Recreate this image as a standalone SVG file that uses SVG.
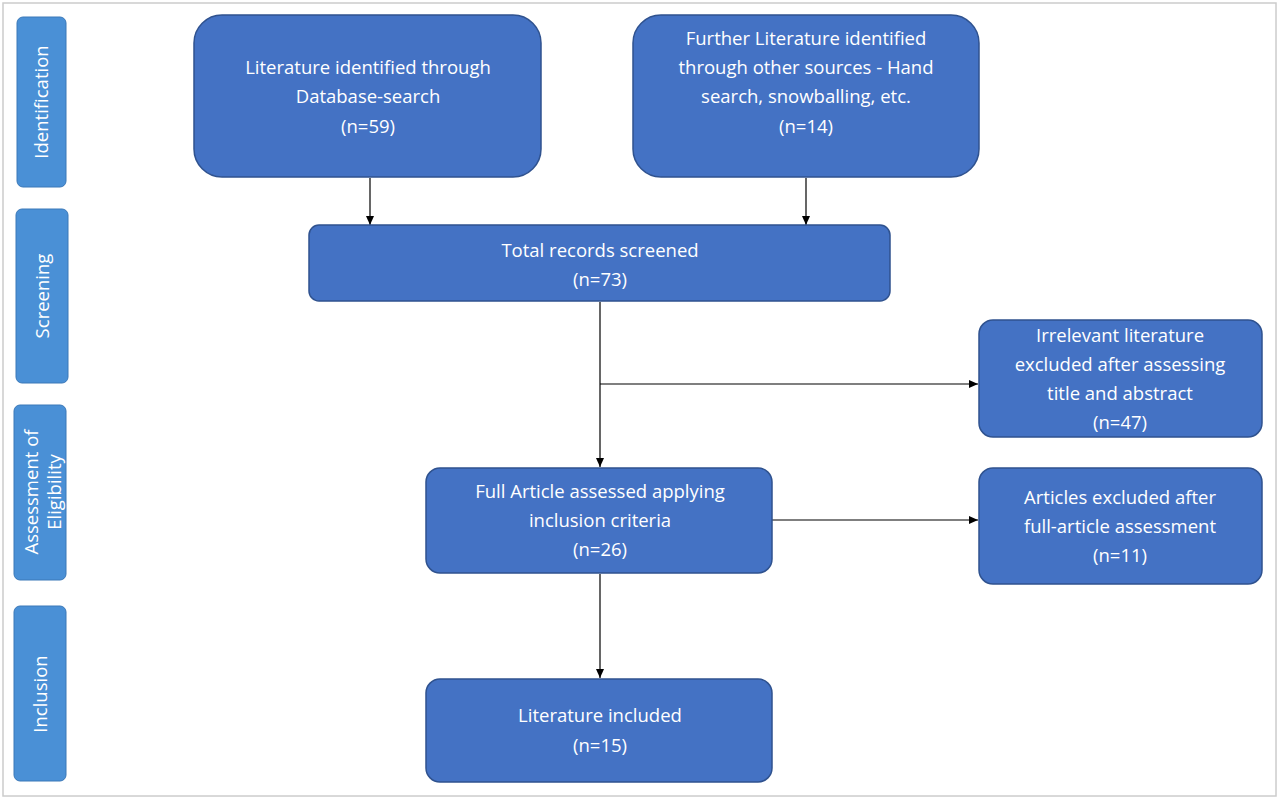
<svg xmlns="http://www.w3.org/2000/svg" width="1280" height="800" viewBox="0 0 1280 800">
<style>
.n{fill:#4472C4;stroke:#2F528F;stroke-width:1.5}
.s{fill:#4A90D6;stroke:#3A78B8;stroke-width:1}
text{font-family:"Open Sans","Liberation Sans",sans-serif;fill:#fff;font-size:18.5px;text-anchor:middle}
.c{stroke:#000;stroke-width:1.2;fill:none;marker-end:url(#a)}
</style>
<defs><marker id="a" markerWidth="10" markerHeight="10" refX="9" refY="5" orient="auto" markerUnits="userSpaceOnUse"><path d="M0,1 L9,5 L0,9 Z" fill="#000"/></marker></defs>
<rect x="3" y="3" width="1273" height="793" fill="#fff" stroke="#ccc" stroke-width="1.5"/>
<g id="sb1"><rect class="s" x="17" y="17" width="49" height="170" rx="6"/><text transform="translate(48,102) rotate(-90)">Identification</text></g>
<g id="sb2"><rect class="s" x="16" y="209" width="52" height="174" rx="6"/><text transform="translate(49,296) rotate(-90)">Screening</text></g>
<g id="sb3"><rect class="s" x="14" y="405" width="52" height="175" rx="6"/><text transform="translate(38,492) rotate(-90)">Assessment of</text><text transform="translate(61,492) rotate(-90)">Eligibility</text></g>
<g id="sb4"><rect class="s" x="14" y="606" width="52" height="175" rx="6"/><text transform="translate(47,694) rotate(-90)">Inclusion</text></g>
<g id="connectors">
<line class="c" x1="370" y1="178" x2="370" y2="225"/>
<line class="c" x1="806" y1="178" x2="806" y2="225"/>
<line class="c" x1="600" y1="302" x2="600" y2="467"/>
<line class="c" x1="600" y1="384" x2="978" y2="384"/>
<line class="c" x1="772" y1="520" x2="978" y2="520"/>
<line class="c" x1="600" y1="574" x2="600" y2="678"/>
</g>
<g id="n1"><rect class="n" x="194" y="15" width="347" height="162" rx="28"/><text x="368" y="74">Literature identified through</text><text x="368" y="103">Database-search</text><text x="368" y="133">(n=59)</text></g>
<g id="n2"><rect class="n" x="633" y="15" width="346" height="162" rx="28"/><text x="806" y="45">Further Literature identified</text><text x="806" y="74">through other sources - Hand</text><text x="806" y="103">search, snowballing, etc.</text><text x="806" y="133">(n=14)</text></g>
<g id="n3"><rect class="n" x="309" y="225" width="581" height="76" rx="10"/><text x="600" y="257">Total records screened</text><text x="600" y="286">(n=73)</text></g>
<g id="n4"><rect class="n" x="979" y="320" width="283" height="117" rx="14"/><text x="1120" y="342">Irrelevant literature</text><text x="1120" y="371">excluded after assessing</text><text x="1120" y="400">title and abstract</text><text x="1120" y="429">(n=47)</text></g>
<g id="n5"><rect class="n" x="426" y="468" width="346" height="105" rx="14"/><text x="600" y="498">Full Article assessed applying</text><text x="600" y="527">inclusion criteria</text><text x="600" y="556">(n=26)</text></g>
<g id="n6"><rect class="n" x="979" y="468" width="283" height="116" rx="14"/><text x="1120" y="504">Articles excluded after</text><text x="1120" y="533">full-article assessment</text><text x="1120" y="562">(n=11)</text></g>
<g id="n7"><rect class="n" x="426" y="679" width="346" height="103" rx="14"/><text x="600" y="722">Literature included</text><text x="600" y="752">(n=15)</text></g>
</svg>
